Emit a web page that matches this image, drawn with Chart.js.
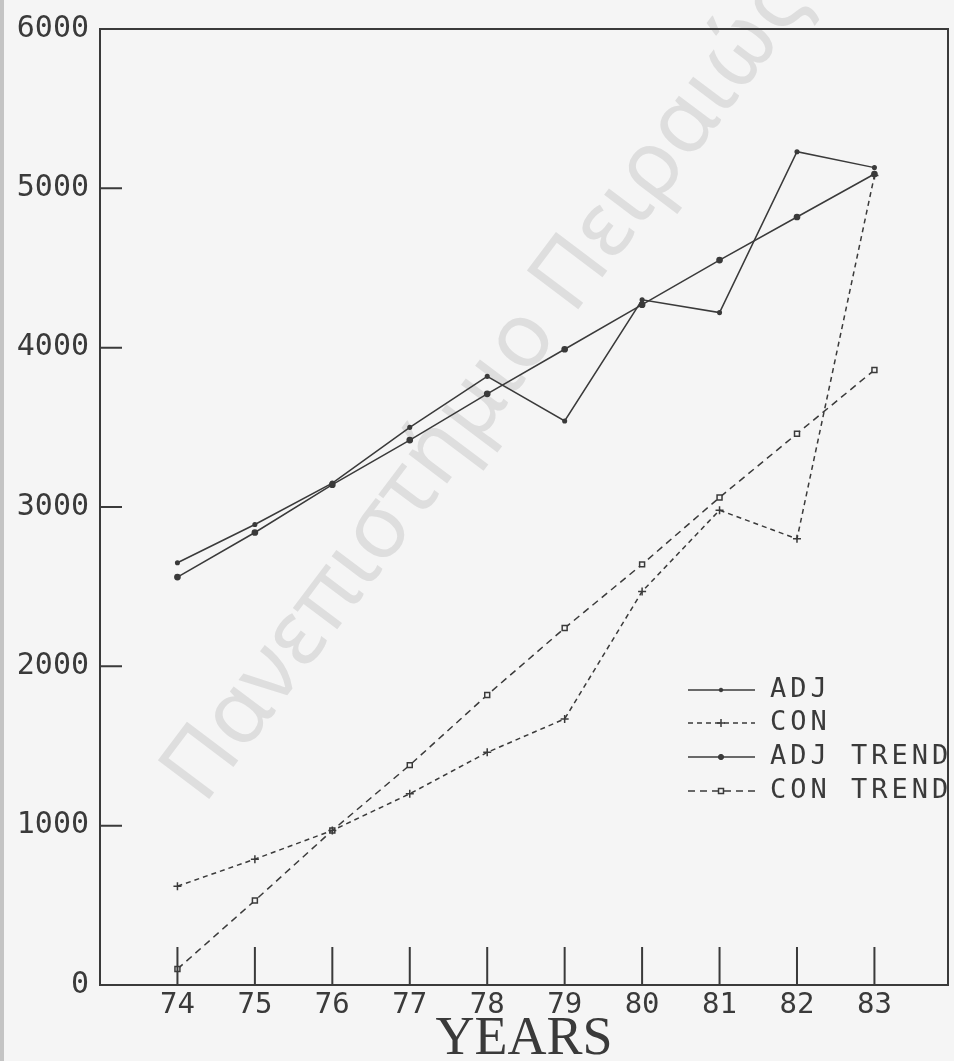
<!DOCTYPE html>
<html>
<head>
<meta charset="utf-8">
<title>ADJ / CON by year</title>
<script src="https://cdn.jsdelivr.net/npm/chart.js@4.4.1/dist/chart.umd.min.js"></script>
<style>
  html, body { margin: 0; padding: 0; background: #f5f5f5; }
  #wrap { width: 954px; height: 1061px; }
</style>
</head>
<body>
<div id="wrap"><canvas id="chart" width="954" height="1061"></canvas></div>
<script>
// values
const years = [74, 75, 76, 77, 78, 79, 80, 81, 82, 83];
const adj = [2650, 2890, 3150, 3500, 3820, 3540, 4300, 4220, 5230, 5130];
const con = [620, 790, 970, 1200, 1460, 1670, 2470, 2980, 2800, 5080];
const adjTrend = [2560, 2840, 3140, 3420, 3710, 3990, 4270, 4550, 4820, 5090];
const conTrend = [100, 530, 970, 1380, 1820, 2240, 2640, 3060, 3460, 3860];
const yTickValues = [0, 1000, 2000, 3000, 4000, 5000, 6000];

const ink = '#3a3a3a';
const paper = '#f5f5f5';

const toPoints = arr => arr.map((v, i) => ({ x: years[i], y: v }));

// paper, scan edge and the repository watermark
const paperPlugin = {
    id: 'paper',
    beforeDraw(chart) {
        const ctx = chart.ctx;
        ctx.save();
        ctx.fillStyle = paper;
        ctx.fillRect(0, 0, chart.width, chart.height);
        ctx.fillStyle = '#c4c4c4';
        ctx.fillRect(0, 0, 4, chart.height);
        ctx.translate(204, 806);
        ctx.rotate(-53 * Math.PI / 180);
        ctx.font = '90px "Noto Sans"';
        ctx.fillStyle = '#dedede';
        ctx.textBaseline = 'alphabetic';
        ctx.fillText('Πανεπιστήμιο Πειραιώς', 0, 0);
        ctx.restore();
    }
};

// frame, inner tick marks and the legend box
const framePlugin = {
    id: 'frame',
    afterDraw(chart) {
        const { ctx, chartArea: a, scales: { x, y } } = chart;
        ctx.save();
        ctx.strokeStyle = ink;
        ctx.lineWidth = 2;
        ctx.beginPath();
        x.ticks.forEach(t => {
            const px = x.getPixelForValue(t.value);
            ctx.moveTo(px, a.bottom);
            ctx.lineTo(px, a.bottom - 38);
        });
        y.ticks.forEach(t => {
            if (t.value === 0 || t.value === 6000) return;
            const py = y.getPixelForValue(t.value);
            ctx.moveTo(a.left, py);
            ctx.lineTo(a.left + 22, py);
        });
        ctx.stroke();

        // legend, bottom right inside the plot
        const rows = [690, 723, 757, 791];
        ctx.save();
        ctx.beginPath();
        ctx.rect(a.left, a.top, a.right - a.left, a.bottom - a.top);
        ctx.clip();
        chart.data.datasets.forEach((ds, i) => {
            const ry = rows[i];
            ctx.strokeStyle = ink;
            ctx.lineWidth = 1.5;
            ctx.setLineDash(ds.borderDash || []);
            ctx.beginPath();
            ctx.moveTo(688, ry);
            ctx.lineTo(755, ry);
            ctx.stroke();
            ctx.setLineDash([]);
            ctx.fillStyle = ds.pointBackgroundColor;
            ctx.strokeStyle = ink;
            ctx.lineWidth = ds.pointBorderWidth || 1;
            Chart.helpers.drawPoint(ctx, {
                pointStyle: ds.pointStyle,
                radius: ds.pointRadius,
                borderWidth: ds.pointBorderWidth || 1,
                rotation: 0
            }, 721, ry);
            ctx.fillStyle = ink;
            ctx.font = '27px "DejaVu Sans Mono"';
            ctx.letterSpacing = '4px';
            ctx.textBaseline = 'middle';
            ctx.fillText(ds.label, 770, ry);
        });
        ctx.restore();

        ctx.strokeStyle = ink;
        ctx.lineWidth = 2;
        ctx.beginPath();
        ctx.moveTo(a.left, a.top);
        ctx.lineTo(a.right, a.top);
        ctx.lineTo(a.right, a.bottom);
        ctx.stroke();
        ctx.restore();
    }
};

const lineStyle = {
    borderColor: ink,
    borderWidth: 1.5,
    pointBorderColor: ink,
    pointBackgroundColor: ink,
    tension: 0,
    fill: false
};

new Chart(document.getElementById('chart'), {
    type: 'line',
    data: {
        datasets: [
            { ...lineStyle, label: 'ADJ', data: toPoints(adj), pointStyle: 'circle', pointRadius: 1.8 },
            { ...lineStyle, label: 'CON', data: toPoints(con), borderDash: [5, 4], pointStyle: 'cross', pointRadius: 4, pointBorderWidth: 1.5 },
            { ...lineStyle, label: 'ADJ TREND', data: toPoints(adjTrend), pointStyle: 'circle', pointRadius: 2.6 },
            { ...lineStyle, label: 'CON TREND', data: toPoints(conTrend), borderDash: [7, 5], pointStyle: 'rect', pointRadius: 3.5, pointBackgroundColor: paper, pointBorderWidth: 1.5 }
        ]
    },
    options: {
        responsive: false,
        devicePixelRatio: 1,
        animation: false,
        layout: { padding: { top: 17, right: 6, left: 0, bottom: 0 } },
        scales: {
            x: {
                type: 'linear',
                min: 73,
                max: 83.95,
                afterBuildTicks: s => { s.ticks = years.map(v => ({ value: v })); },
                afterFit: s => { s.height = 76; },
                grid: { display: false, drawTicks: false },
                border: { display: true, color: ink, width: 2 },
                ticks: {
                    color: ink,
                    padding: 3,
                    maxRotation: 0,
                    callback: v => String(v),
                    font: { family: 'DejaVu Sans Mono', size: 29 }
                },
                title: {
                    display: true,
                    text: 'YEARS',
                    color: ink,
                    padding: 0,
                    font: { family: 'Liberation Serif', size: 54, lineHeight: 0.8 }
                }
            },
            y: {
                min: 0,
                max: 6000,
                afterBuildTicks: s => { s.ticks = yTickValues.map(v => ({ value: v })); },
                afterFit: s => { s.width = 100; },
                grid: { display: false, drawTicks: false },
                border: { display: true, color: ink, width: 2 },
                ticks: {
                    color: ink,
                    padding: 11,
                    callback: v => String(v),
                    font: { family: 'DejaVu Sans Mono', size: 30 }
                }
            }
        },
        plugins: {
            legend: { display: false },
            tooltip: { enabled: false }
        }
    },
    plugins: [paperPlugin, framePlugin]
});
</script>
</body>
</html>
